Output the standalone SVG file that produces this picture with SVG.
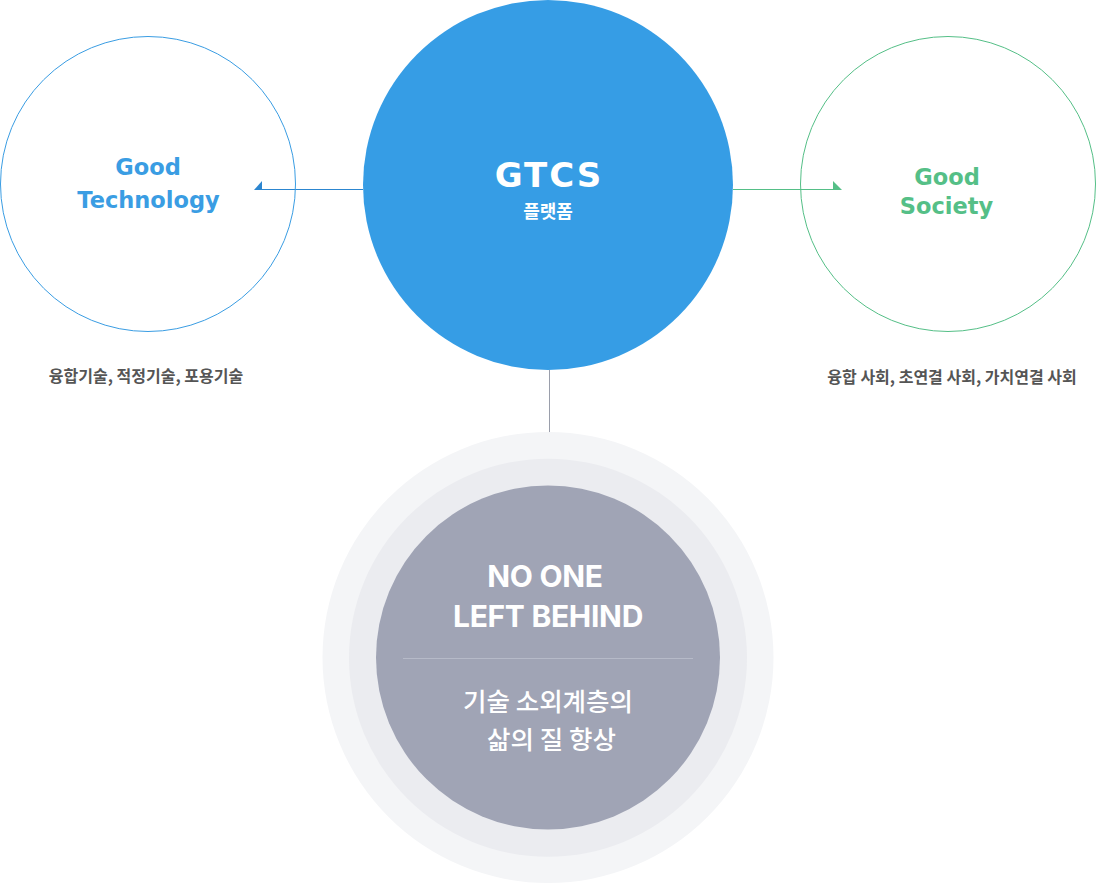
<svg xmlns="http://www.w3.org/2000/svg" width="1096" height="883" viewBox="0 0 1096 883">
<style>
.t{font-family:"Inter","Noto Sans","Noto Sans CJK KR",sans-serif;font-weight:700;text-anchor:middle}
.d{font-family:"DejaVu Sans","Inter",sans-serif;font-weight:700;text-anchor:middle}
.k{font-family:"Noto Sans CJK KR","Noto Sans",sans-serif;text-anchor:middle}
.sub{font-size:16px;font-weight:700;fill:#555555}
.g{font-size:22.5px}
</style>
<rect width="1096" height="883" fill="#ffffff"/>
<g id="connectors">
<line x1="256" y1="189.5" x2="363" y2="189.5" stroke="#2c86d0" stroke-width="1"/>
<polygon points="254,189.9 262,181 262,189.9" fill="#2c86d0"/>
<line x1="733" y1="189.5" x2="840" y2="189.5" stroke="#55bf87" stroke-width="1"/>
<polygon points="833,181 833,189.9 842,189.9" fill="#55bf87"/>
<line x1="549.5" y1="370" x2="549.5" y2="487" stroke="#9a9eab" stroke-width="1"/>
</g>
<g id="good-technology">
<circle cx="148" cy="184" r="147.5" fill="none" stroke="#3a9de3" stroke-width="1"/>
<text class="d g" x="148" y="175" fill="#3a9de3">Good</text>
<text class="d g" x="148.5" y="207.5" fill="#3a9de3">Technology</text>
<text class="k sub" x="146" y="382">융합기술, 적정기술, 포용기술</text>
</g>
<g id="good-society">
<circle cx="948" cy="184" r="147.5" fill="none" stroke="#55bf87" stroke-width="1"/>
<text class="d g" x="947" y="185" fill="#55bf87">Good</text>
<text class="d g" x="946.5" y="214" fill="#55bf87">Society</text>
<text class="k sub" x="952" y="383">융합 사회, 초연결 사회, 가치연결 사회</text>
</g>
<g id="gtcs">
<circle cx="548" cy="185" r="185" fill="#369de5"/>
<text class="d" x="549" y="186.5" font-size="34" letter-spacing="2" fill="#ffffff">GTCS</text>
<text class="k" x="548" y="218" font-size="18" font-weight="700" fill="#ffffff">플랫폼</text>
</g>
<g id="no-one-left-behind">
<circle cx="548" cy="657.5" r="225.5" fill="#f4f5f7"/>
<circle cx="548" cy="657.8" r="199" fill="#ebecf0"/>
<circle cx="548" cy="657.5" r="172" fill="#a0a4b5"/>
<text class="t" x="545" y="587" font-size="30" fill="#ffffff" letter-spacing="-0.3">NO ONE</text>
<text class="t" x="548" y="627" font-size="30" fill="#ffffff" letter-spacing="-0.3">LEFT BEHIND</text>
<line x1="403" y1="658.5" x2="693" y2="658.5" stroke="#b6bac8" stroke-width="1"/>
<text class="k" x="548" y="711" font-size="25.5" font-weight="500" fill="#ffffff">기술 소외계층의</text>
<text class="k" x="551.5" y="749" font-size="25.5" font-weight="500" fill="#ffffff">삶의 질 향상</text>
</g>
</svg>
